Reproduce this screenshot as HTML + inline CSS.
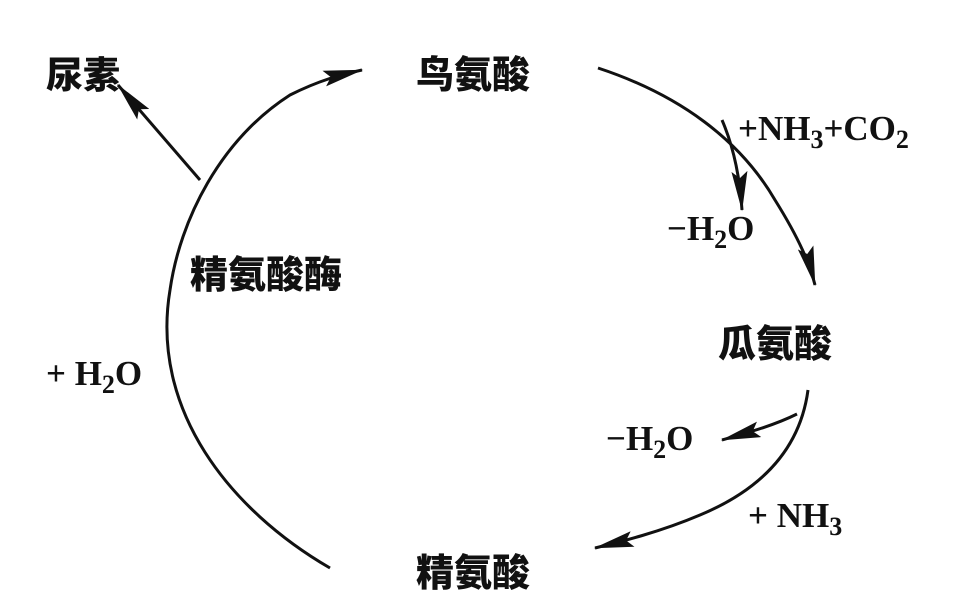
<!DOCTYPE html>
<html><head><meta charset="utf-8"><style>
html,body{margin:0;padding:0;background:#fff;width:962px;height:596px;overflow:hidden}
svg text{font-family:"Liberation Serif","Noto Serif CJK SC",serif;font-weight:bold;fill:#111}
.cn{font-family:"Liberation Sans","Noto Sans CJK SC",sans-serif;font-weight:900}
</style></head><body>
<svg width="962" height="596" viewBox="0 0 962 596" xmlns="http://www.w3.org/2000/svg">
<defs>
<marker id="b" viewBox="0 0 30 12" refX="29" refY="6" markerWidth="40" markerHeight="16" markerUnits="userSpaceOnUse" orient="auto">
<path d="M0,0 L30,6 L0,12 L5,6 Z" fill="#111"/></marker>
</defs>
<g fill="none" stroke="#111" stroke-width="3">
<path d="M330,568 C230,510 150,410 170,290 C180,220 220,140 290,95 C320,80 340,75 362,70" marker-end="url(#b)"/>
<path d="M200,180 L118,85" marker-end="url(#b)"/>
<path d="M598,68 C680,95 740,140 775,200 C800,240 810,265 815,285" marker-end="url(#b)"/>
<path d="M722,120 C735,150 740,180 742,210" marker-end="url(#b)"/>
<path d="M808,390 C800,450 760,490 700,515 C660,532 620,542 595,548" marker-end="url(#b)"/>
<path d="M797,414 C775,425 750,432 722,440" marker-end="url(#b)"/>
</g>
<text class="cn" x="46" y="88" font-size="37">尿素</text>
<text class="cn" x="416" y="88" font-size="38">鸟氨酸</text>
<text class="cn" x="718" y="357" font-size="38">瓜氨酸</text>
<text class="cn" x="416" y="586" font-size="38">精氨酸</text>
<text class="cn" x="190" y="288" font-size="38">精氨酸酶</text>
<text x="738" y="140" font-size="35">+NH<tspan font-size="26" dy="8">3</tspan><tspan dy="-8">+CO</tspan><tspan font-size="26" dy="8">2</tspan></text>
<text x="667" y="240" font-size="35">−H<tspan font-size="26" dy="8">2</tspan><tspan dy="-8">O</tspan></text>
<text x="46" y="385" font-size="35">+ H<tspan font-size="26" dy="8">2</tspan><tspan dy="-8">O</tspan></text>
<text x="606" y="450" font-size="35">−H<tspan font-size="26" dy="8">2</tspan><tspan dy="-8">O</tspan></text>
<text x="748" y="527" font-size="35">+ NH<tspan font-size="26" dy="8">3</tspan></text>
</svg>
</body></html>
